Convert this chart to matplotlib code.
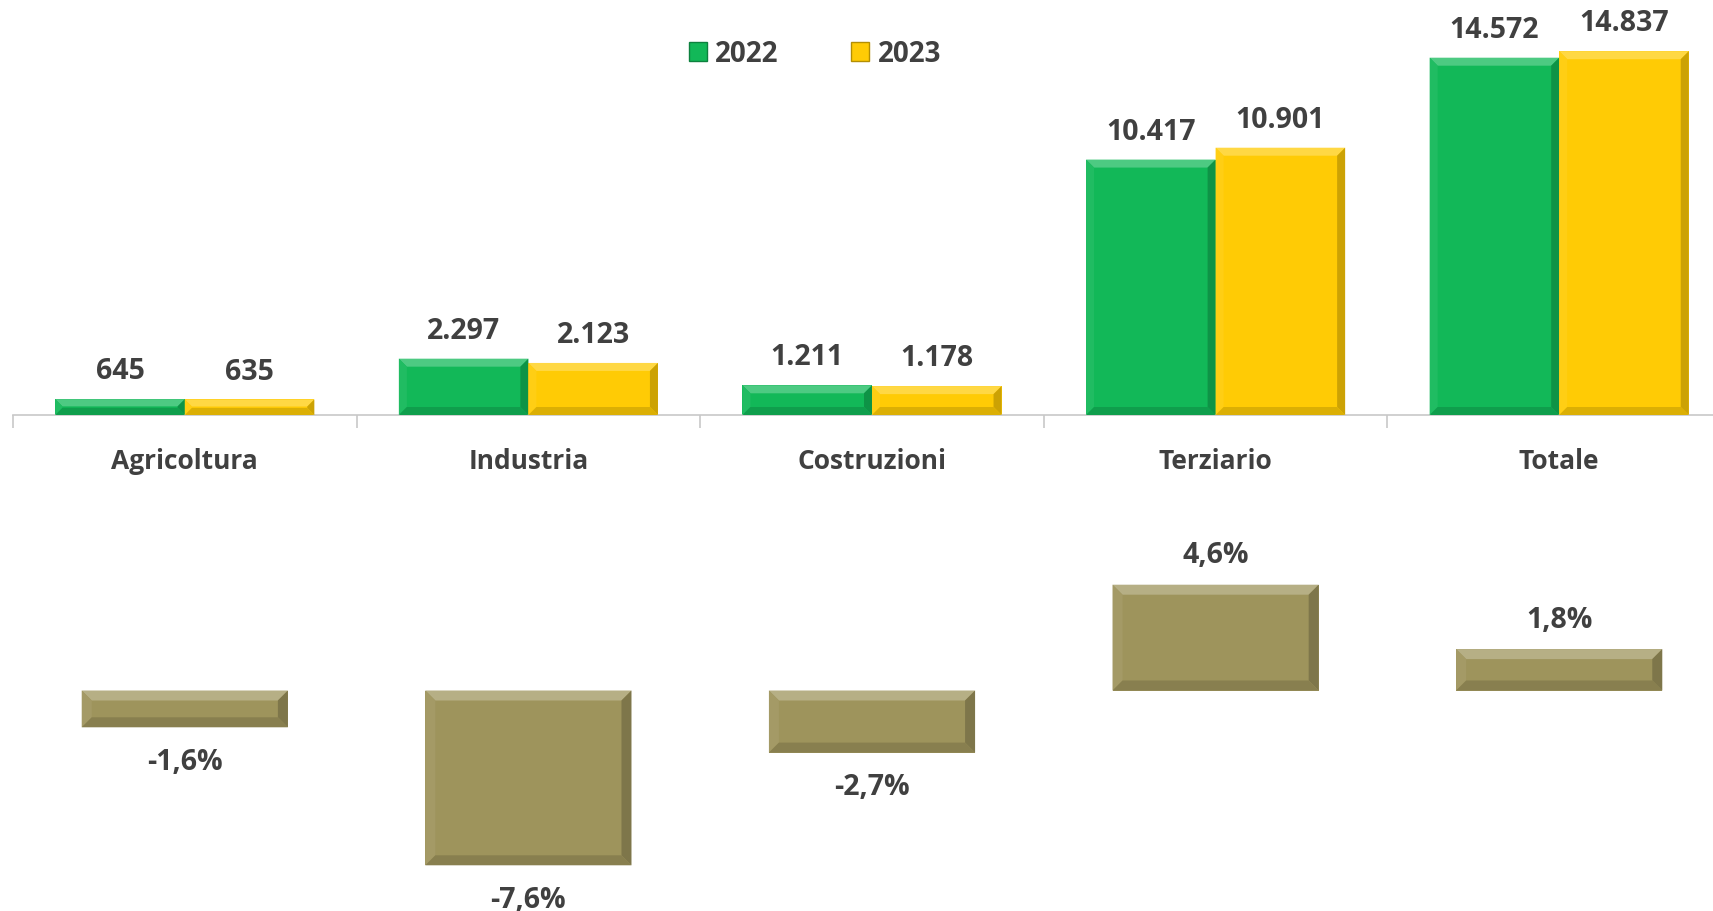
import numpy as np
import matplotlib.pyplot as plt
from matplotlib.patches import Polygon, Patch
from matplotlib import colors as mcolors

plt.rcParams['font.family'] = ['Open Sans', 'DejaVu Sans']
plt.rcParams['font.weight'] = 'bold'

categories = ["Agricoltura", "Industria", "Costruzioni", "Terziario", "Totale"]
val_2022 = [645, 2297, 1211, 10417, 14572]
val_2023 = [635, 2123, 1178, 10901, 14837]
pct_change = [-1.6, -7.6, -2.7, 4.6, 1.8]
years = ["2022", "2023"]

GREEN = "#12b858"
YELLOW = "#ffcb05"
OLIVE = "#9e945c"
TEXT = "#404040"

W, H = 1713, 912
fig = plt.figure(figsize=(W / 100, H / 100), dpi=100)


def px_axes(x0, x1, ytop, ybot):
    return fig.add_axes([x0 / W, 1 - ybot / H, (x1 - x0) / W, (ybot - ytop) / H])


def shade(c, f):
    r = np.array(mcolors.to_rgb(c))
    if f > 0:
        r = r + (1 - r) * f
    else:
        r = r * (1 + f)
    return tuple(np.clip(r, 0, 1))


def bevel(ax, bars, color, size=8):
    inv = ax.transData.inverted()
    for p in bars:
        (x0, y0), (x1, y1) = ax.transData.transform(p.get_bbox().get_points())
        y0, y1 = min(y0, y1), max(y0, y1)
        b = min(size, (y1 - y0) / 2.2, (x1 - x0) / 2.2)
        faces = [
            ([(x0, y1), (x1, y1), (x1 - b, y1 - b), (x0 + b, y1 - b)], 0.25),
            ([(x0, y0), (x0, y1), (x0 + b, y1 - b), (x0 + b, y0 + b)], 0.06),
            ([(x1, y0), (x1, y1), (x1 - b, y1 - b), (x1 - b, y0 + b)], -0.2),
            ([(x0, y0), (x1, y0), (x1 - b, y0 + b), (x0 + b, y0 + b)], -0.14),
        ]
        for pts, f in faces:
            ax.add_patch(Polygon(inv.transform(pts), closed=True, facecolor=shade(color, f),
                                 edgecolor="none", zorder=3))


x = np.arange(len(categories))

# top chart: absolute values
ax = px_axes(13, 1731, 0, 416)
ax.set_xlim(-0.5, 4.5)
ax.set_ylim(0, 416 / 0.02452)
bw = 0.377
b1 = ax.bar(x - bw / 2, val_2022, bw, color=GREEN, zorder=2)
b2 = ax.bar(x + bw / 2, val_2023, bw, color=YELLOW, zorder=2)
bevel(ax, b1, GREEN)
bevel(ax, b2, YELLOW)
for bars, vals in ((b1, val_2022), (b2, val_2023)):
    for p, v in zip(bars, vals):
        ax.annotate(f"{v:,}".replace(",", "."), (p.get_x() + p.get_width() / 2, v),
                    xytext=(0, 10), textcoords="offset points", ha="center", va="bottom",
                    fontsize=20.5, color=TEXT, fontweight="bold")
for s in ("top", "right", "left"):
    ax.spines[s].set_visible(False)
ax.spines["bottom"].set_color("#c8c8c8")
ax.spines["bottom"].set_linewidth(1.2)
ax.set_yticks([])
ax.set_xticks(x)
ax.set_xticklabels(categories, fontsize=19, color=TEXT, fontweight="bold")
ax.tick_params(axis="x", which="major", length=0, pad=23)
ax.set_xticks(np.arange(-0.5, 5, 1), minor=True)
ax.tick_params(axis="x", which="minor", length=9, color="#c8c8c8", width=1.2)
ax.patch.set_alpha(0)

handles = [Patch(facecolor=GREEN, edgecolor=shade(GREEN, -0.3)),
           Patch(facecolor=YELLOW, edgecolor=shade(YELLOW, -0.3))]
fig.legend(handles, years, loc="center", bbox_to_anchor=(815 / W, 1 - 55 / H), ncol=2,
           frameon=False, handlelength=0.65, handleheight=0.65, handletextpad=0.3,
           columnspacing=2.6, prop={"size": 20, "weight": "bold"}, labelcolor=TEXT)

# bottom chart: percent change
ax2 = px_axes(13, 1731, 470, 912)
ax2.set_xlim(-0.5, 4.5)
ax2.set_ylim(-(912 - 691.5) / 23.0, (691.5 - 470) / 23.0)
b3 = ax2.bar(x, pct_change, 0.60, color=OLIVE, zorder=2)
bevel(ax2, b3, OLIVE, size=10)
for p, v in zip(b3, pct_change):
    off = 11 if v >= 0 else -14
    ax2.annotate(f"{v:.1f}%".replace(".", ","), (p.get_x() + p.get_width() / 2, v),
                 xytext=(0, off), textcoords="offset points", ha="center",
                 va="bottom" if v >= 0 else "top", fontsize=20.5, color=TEXT, fontweight="bold")
ax2.axis("off")

fig.savefig("out.png", dpi=100)
